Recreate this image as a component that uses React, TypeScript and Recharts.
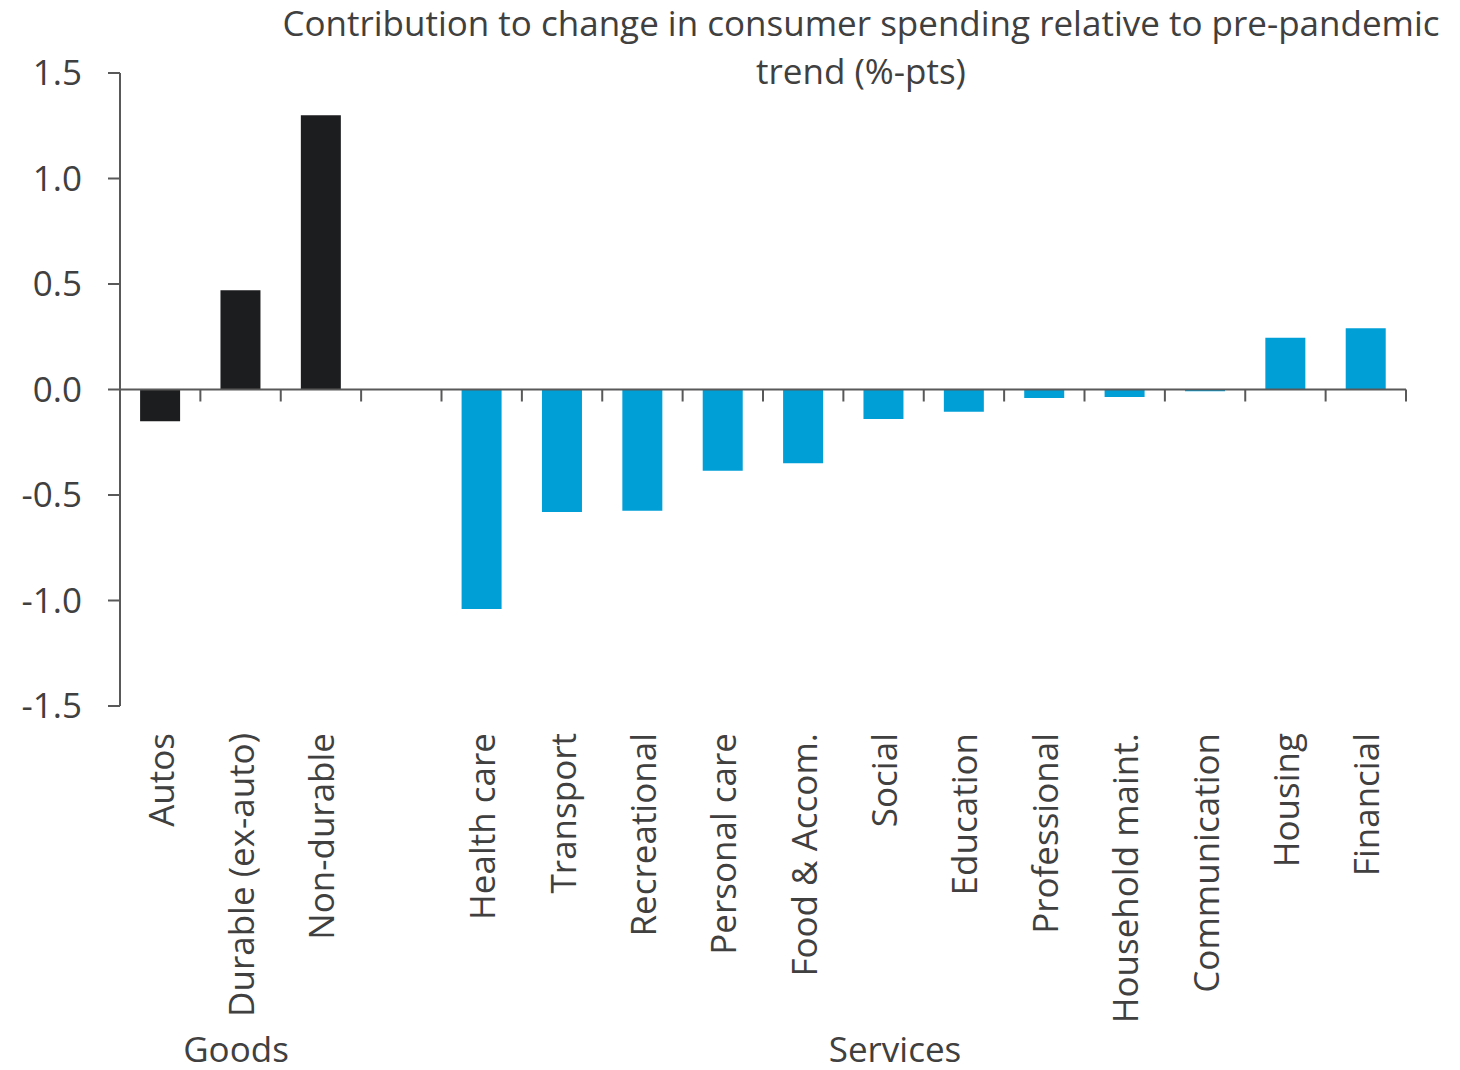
import React from "react";
import { BarChart, Bar, XAxis, YAxis, Cell, ReferenceLine } from "recharts";

const categories = [
  "Autos",
  "Durable (ex-auto)",
  "Non-durable",
  "",
  "Health care",
  "Transport",
  "Recreational",
  "Personal care",
  "Food & Accom.",
  "Social",
  "Education",
  "Professional",
  "Household maint.",
  "Communication",
  "Housing",
  "Financial",
];
const values = [-0.15, 0.47, 1.3, 0, -1.04, -0.58, -0.575, -0.385, -0.35, -0.14, -0.105, -0.04, -0.035, -0.008, 0.245, 0.29];
const groups = ["Goods", "Goods", "Goods", "", "Services", "Services", "Services", "Services", "Services", "Services", "Services", "Services", "Services", "Services", "Services", "Services"];
const yTicks = [-1.5, -1.0, -0.5, 0, 0.5, 1.0, 1.5];

const GOODS = "#1c1d1f";
const SERVICES = "#009fd6";
const TEXT = "#404040";
const AXIS = "#595959";
const FONT = "'Open Sans', sans-serif";
const FS = 35;

const data = categories.map((name, i) => ({ name, value: values[i], group: groups[i] }));

function CategoryTick(props: any) {
  const { x, y, payload } = props;
  return (
    <text
      x={x}
      y={y}
      transform={`rotate(-90, ${x}, ${y})`}
      textAnchor="end"
      dominantBaseline="central"
      fill={TEXT}
      fontSize={FS}
      fontFamily={FONT}
    >
      {payload.value}
    </text>
  );
}

// zero line with tick marks between categories, like the Excel original
function ZeroLine(props: any) {
  const { x1, y1, x2 } = props;
  const n = categories.length;
  const step = (x2 - x1) / n;
  const ticks = [];
  for (let i = 1; i <= n; i++) {
    const tx = x1 + step * i;
    ticks.push(<line key={i} x1={tx} y1={y1} x2={tx} y2={y1 + 12} stroke={AXIS} strokeWidth={2} />);
  }
  return (
    <g>
      <line x1={x1} y1={y1} x2={x2} y2={y1} stroke={AXIS} strokeWidth={2} />
      {ticks}
    </g>
  );
}

export default function App() {
  return (
    <div style={{ position: "absolute", left: 0, top: 0, width: 1460, height: 1070, background: "#fff", fontFamily: FONT, color: TEXT }}>
      <div style={{ position: "absolute", left: 161, width: 1400, top: 0, lineHeight: "46px", fontSize: FS, textAlign: "center" }}>
        Contribution to change in consumer spending relative to pre-pandemic
      </div>
      <div style={{ position: "absolute", left: 161, width: 1400, top: 48, lineHeight: "46px", fontSize: FS, textAlign: "center" }}>
        trend (%-pts)
      </div>
      <BarChart
        width={1460}
        height={1070}
        data={data}
        margin={{ top: 73, right: 54, bottom: 64, left: 0 }}
        barCategoryGap="25%"
      >
        <XAxis
          dataKey="name"
          interval={0}
          axisLine={false}
          tickLine={false}
          height={300}
          tick={<CategoryTick />}
          tickSize={0}
          tickMargin={27}
        />
        <YAxis
          domain={[-1.5, 1.5]}
          ticks={yTicks}
          width={120}
          tickFormatter={(v: number) => v.toFixed(1)}
          tick={{ fill: TEXT, fontSize: FS, fontFamily: FONT }}
          tickSize={12}
          tickMargin={26}
          axisLine={{ stroke: AXIS, strokeWidth: 2 }}
          tickLine={{ stroke: AXIS, strokeWidth: 2 }}
        />
        <Bar dataKey="value" isAnimationActive={false}>
          {data.map((d, i) => (
            <Cell key={i} fill={d.group === "Goods" ? GOODS : SERVICES} />
          ))}
        </Bar>
        <ReferenceLine y={0} shape={<ZeroLine />} />
      </BarChart>
      <div style={{ position: "absolute", left: 136, width: 200, top: 1029, lineHeight: "40px", fontSize: FS, textAlign: "center" }}>
        Goods
      </div>
      <div style={{ position: "absolute", left: 795, width: 200, top: 1029, lineHeight: "40px", fontSize: FS, textAlign: "center" }}>
        Services
      </div>
    </div>
  );
}
